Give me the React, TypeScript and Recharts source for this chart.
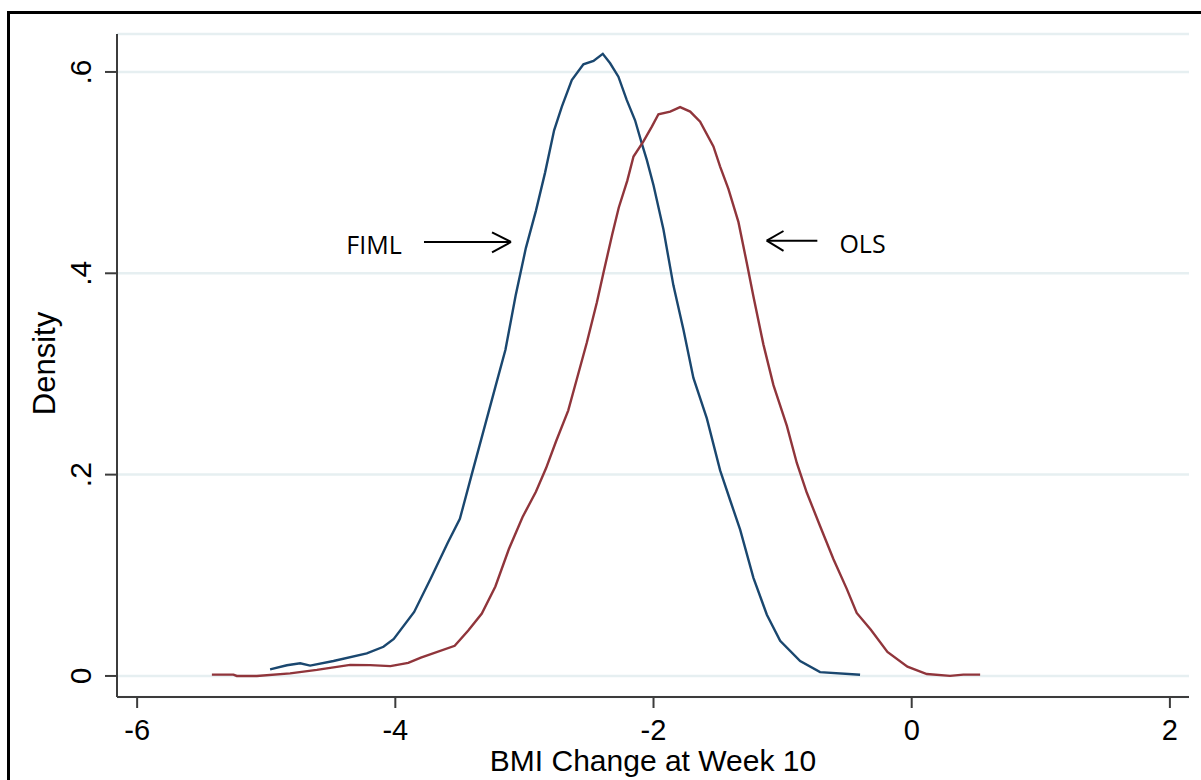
import React from 'react';
import { LineChart, Line, XAxis, YAxis, CartesianGrid, ReferenceLine, ReferenceDot, Label } from 'recharts';

// FIML kernel density (x = BMI change, y = density)
const fimlX = [-4.97, -4.84, -4.737, -4.66, -4.479, -4.221, -4.092, -4.012, -3.854, -3.724, -3.593, -3.5, -3.409, -3.317, -3.225, -3.147, -3.068, -2.989, -2.911, -2.84, -2.77, -2.71, -2.633, -2.543, -2.465, -2.393, -2.336, -2.272, -2.207, -2.143, -2.091, -2.052, -2.0, -1.923, -1.846, -1.768, -1.691, -1.587, -1.484, -1.407, -1.329, -1.226, -1.122, -1.019, -0.864, -0.71, -0.4];
const fimlY = [0.0066, 0.0106, 0.0126, 0.0103, 0.0149, 0.0225, 0.029, 0.0368, 0.0636, 0.0974, 0.1326, 0.156, 0.1998, 0.2435, 0.2872, 0.324, 0.378, 0.425, 0.462, 0.5, 0.542, 0.5655, 0.592, 0.6076, 0.611, 0.618, 0.6086, 0.5953, 0.572, 0.552, 0.529, 0.5126, 0.4875, 0.4434, 0.388, 0.344, 0.296, 0.2558, 0.2042, 0.1748, 0.1454, 0.0975, 0.0608, 0.035, 0.0148, 0.0038, 0.0012];

// OLS kernel density
const olsX = [-5.421, -5.254, -5.228, -5.073, -4.815, -4.608, -4.35, -4.195, -4.038, -3.9, -3.802, -3.54, -3.435, -3.33, -3.225, -3.121, -3.015, -2.911, -2.832, -2.754, -2.661, -2.596, -2.517, -2.439, -2.386, -2.32, -2.269, -2.203, -2.155, -2.078, -2.013, -1.962, -1.871, -1.794, -1.716, -1.639, -1.536, -1.484, -1.42, -1.342, -1.277, -1.226, -1.149, -1.071, -0.967, -0.89, -0.813, -0.71, -0.606, -0.503, -0.426, -0.318, -0.188, -0.033, 0.117, 0.297, 0.4, 0.53];
const olsY = [0.0013, 0.0013, 0.0, 0.0, 0.0026, 0.006, 0.011, 0.0108, 0.0098, 0.013, 0.0183, 0.03, 0.0452, 0.062, 0.0889, 0.1259, 0.1577, 0.183, 0.2065, 0.2334, 0.2636, 0.294, 0.331, 0.371, 0.4015, 0.4385, 0.4654, 0.492, 0.516, 0.531, 0.5457, 0.558, 0.5606, 0.565, 0.5606, 0.5506, 0.526, 0.506, 0.4838, 0.4508, 0.41, 0.377, 0.3294, 0.2889, 0.2484, 0.2116, 0.1822, 0.149, 0.1159, 0.0865, 0.0626, 0.0461, 0.0239, 0.0093, 0.0019, 0.0001, 0.0013, 0.0013];

const xTicks = [-6, -4, -2, 0, 2];
const yTicks = [0, 0.2, 0.4, 0.6];
const xDomain = [-6.156, 2.148];
const yDomain = [-0.0209, 0.6377];

// annotations: label text position, arrow shaft, arrow head
const fimlNote = { label: 'FIML', tx: -4.165, ty: 0.4281, x1: -3.778, x2: -3.104, y: 0.4311, hx: -3.251, hu: 0.4406, hd: 0.4207 };
const olsNote = { label: 'OLS', tx: -0.381, ty: 0.4291, x1: -0.731, x2: -1.123, y: 0.4324, hx: -0.993, hu: 0.442, hd: 0.4222 };

const fimlData = fimlX.map((x, i) => ({ x, y: fimlY[i] }));
const olsData = olsX.map((x, i) => ({ x, y: olsY[i] }));

const FONT = '"Liberation Sans", Arial, sans-serif';
const AXIS = '#3c3c3c';

const fmtY = (v: number) => (v === 0 ? '0' : String(v).replace(/^0/, ''));

const XTick = (props: any) => {
  const { x, y, payload } = props;
  return (
    <text x={x} y={y + 30} textAnchor="middle" fontFamily={FONT} fontSize={29} fill="#000">
      {String(payload.value)}
    </text>
  );
};

const YTick = (props: any) => {
  const { x, y, payload } = props;
  const bx = x - 12;
  return (
    <text x={bx} y={y} transform={`rotate(-90 ${bx} ${y})`} textAnchor="middle" fontFamily={FONT} fontSize={30} fill="#000">
      {fmtY(payload.value)}
    </text>
  );
};

export default function App() {
  const notes = [fimlNote, olsNote];
  return (
    <div style={{ position: 'fixed', left: 0, top: 0, width: 1201, height: 780, background: '#fff', overflow: 'hidden' }}>
      <div style={{ position: 'absolute', left: 7, top: 11, width: 1400, height: 1000, borderTop: '3px solid #000', borderLeft: '3px solid #000' }} />
      <div style={{ position: 'absolute', left: 0, top: 0 }}>
        <LineChart width={1201} height={780} margin={{ top: 34, right: 12, bottom: 0, left: 0 }}>
          <CartesianGrid vertical={false} stroke="#e6eff1" strokeWidth={2.5} />
          <XAxis
            type="number"
            dataKey="x"
            domain={xDomain}
            ticks={xTicks}
            allowDataOverflow
            height={83}
            tickSize={11}
            tick={<XTick />}
            axisLine={{ stroke: AXIS, strokeWidth: 2 }}
            tickLine={{ stroke: AXIS, strokeWidth: 2 }}
          >
            <Label
              content={(p: any) => {
                const vb = p.viewBox;
                return (
                  <text x={vb.x + vb.width / 2} y={vb.y + vb.height - 9} textAnchor="middle" fontFamily={FONT} fontSize={30} fill="#000">
                    BMI Change at Week 10
                  </text>
                );
              }}
            />
          </XAxis>
          <YAxis
            type="number"
            domain={yDomain}
            ticks={yTicks}
            allowDataOverflow
            width={117}
            tickSize={12}
            tick={<YTick />}
            axisLine={{ stroke: AXIS, strokeWidth: 2 }}
            tickLine={{ stroke: AXIS, strokeWidth: 2 }}
          >
            <Label
              content={(p: any) => {
                const vb = p.viewBox;
                const cx = vb.x + 55;
                const cy = vb.y + vb.height / 2 - 2;
                return (
                  <text x={cx} y={cy} transform={`rotate(-90 ${cx} ${cy})`} textAnchor="middle" fontFamily={FONT} fontSize={31} fill="#000">
                    Density
                  </text>
                );
              }}
            />
          </YAxis>
          <Line data={fimlData} dataKey="y" type="linear" stroke="#1a476f" strokeWidth={2.4} dot={false} activeDot={false} isAnimationActive={false} />
          <Line data={olsData} dataKey="y" type="linear" stroke="#90353b" strokeWidth={2.4} dot={false} activeDot={false} isAnimationActive={false} />
          {notes.map((n) => (
            <ReferenceLine key={n.label + 'l'} segment={[{ x: n.x1, y: n.y }, { x: n.x2, y: n.y }]} stroke="#000" strokeWidth={2} ifOverflow="visible" />
          ))}
          {notes.map((n) => (
            <ReferenceLine key={n.label + 'u'} segment={[{ x: n.hx, y: n.hu }, { x: n.x2, y: n.y }]} stroke="#000" strokeWidth={2} ifOverflow="visible" />
          ))}
          {notes.map((n) => (
            <ReferenceLine key={n.label + 'd'} segment={[{ x: n.hx, y: n.hd }, { x: n.x2, y: n.y }]} stroke="#000" strokeWidth={2} ifOverflow="visible" />
          ))}
          {notes.map((n) => (
            <ReferenceDot
              key={n.label + 't'}
              x={n.tx}
              y={n.ty}
              r={0}
              fill="none"
              stroke="none"
              ifOverflow="visible"
              label={{ value: n.label, position: 'center', fontSize: 25, fontFamily: '"Open Sans", sans-serif', fill: '#000' }}
            />
          ))}
        </LineChart>
      </div>
    </div>
  );
}
